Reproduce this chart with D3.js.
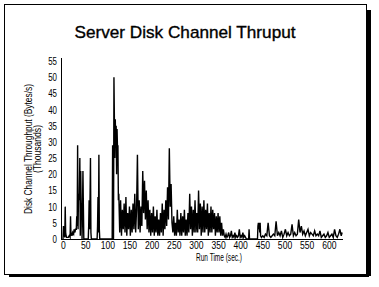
<!DOCTYPE html>
<html>
<head>
<meta charset="utf-8">
<script src="https://cdn.jsdelivr.net/npm/d3@7"></script>
<style>
  body { margin: 0; background: #fff; }
  svg { display: block; }
  .tick text { font-family: "Liberation Sans", Arial, sans-serif; font-size: 11px; fill: #000; }
</style>
</head>
<body>
<div id="chart"></div>
<script>
// run time (sec.) and throughput (thousands of bytes/s)
const runTime = [
  0, 1, 2, 3, 4, 5, 6, 7, 8, 10, 12, 14, 16, 17, 18, 20, 21, 22, 24, 25, 27, 28, 30, 31, 32, 33, 34, 35, 36, 37,
  38, 39, 40, 41, 42, 43, 44, 45, 46, 47, 48, 57, 58, 59, 60, 61, 62, 63, 64, 65, 77, 78, 79, 80, 81, 82, 83, 84, 85,
  111, 112, 113, 114, 115, 116, 117, 118, 119, 120, 121, 122, 123, 124, 125,
  126, 128, 130, 132, 134, 136, 138, 140, 142, 144, 146, 148, 150, 152, 154, 156, 158, 160, 162, 164, 166, 168,
  170, 172, 174, 176, 178, 180, 182, 184, 186, 188, 190, 192, 194, 196, 198, 200, 202, 204, 206, 208, 210, 212,
  214, 216, 218, 220, 222, 224, 226, 228, 230, 232, 234, 236, 238, 240, 242, 244, 246, 248, 250, 252, 254, 256,
  258, 260, 262, 264, 266, 268, 270, 272, 274, 276, 278, 280, 282, 284, 286, 288, 290, 292, 294, 296, 298, 300,
  302, 304, 306, 308, 310, 312, 314, 316, 318, 320, 322, 324, 326, 328, 330, 332, 334, 336, 338, 340, 342, 344,
  346, 348, 350, 352, 354, 356, 358, 360, 362, 364,
  366, 368, 370, 372, 374, 376, 378, 380, 382, 384, 386, 388, 390, 392, 394, 396, 398, 400, 402, 404, 406, 408,
  410, 412, 414, 419, 420, 421, 439, 440, 441, 442, 443, 444, 445, 446,
  448, 451, 454, 457, 460, 463, 466, 469, 472, 475, 478, 481, 484, 487, 490, 493, 496, 499, 502, 505, 508, 511,
  514, 517, 520, 523, 526, 529, 532, 535, 538, 541, 544, 547, 550, 553, 556, 559, 562, 565, 568, 571, 574, 577,
  580, 583, 586, 589, 592, 595, 598, 601, 604, 607, 610, 613, 616, 619, 622, 625, 628, 630
];
const throughput = [
  0, 4, 3, 1, 0.5, 10, 2, 1, 0.5, 0.5, 0.5, 1, 0.5, 7, 1, 2, 1, 2, 1.5, 3, 2, 3, 3, 7, 4, 29, 3, 14, 12, 14,
  25, 1, 21, 10, 11, 0, 9, 21, 10, 0, 0, 0, 4, 12, 3, 12, 25, 2, 0, 0, 0, 4, 13, 2, 26, 3, 0, 0, 0,
  0, 29, 0, 0, 50, 37, 25, 37, 30, 35, 20, 34, 28, 29, 12,
  14, 2, 12, 1, 9, 3, 11, 2, 13, 1, 8, 3, 10, 1, 9, 2, 11, 3, 14, 2, 9, 26,
  3, 12, 2, 10, 4, 21, 8, 18, 6, 15, 3, 12, 2, 9, 1, 8, 2, 10, 1, 7, 2, 9,
  1, 6, 1, 8, 2, 11, 1, 9, 3, 12, 4, 16, 6, 28, 10, 17, 5, 2, 7, 1, 5, 1,
  9, 2, 6, 1, 8, 1, 7, 2, 9, 1, 6, 1, 8, 2, 14, 3, 10, 1, 9, 2, 12, 2,
  8, 2, 15, 3, 11, 1, 10, 2, 12, 2, 9, 3, 11, 1, 8, 2, 10, 2, 9, 3, 8, 1,
  7, 2, 8, 2, 7, 1, 5, 1, 3, 1,
  0.5, 1.5, 0.5, 1, 2, 0.5, 1, 2.5, 0.5, 1, 0.5, 2, 0.5, 1, 0.5, 1, 3, 0.5, 1, 0.5, 2, 0.5,
  1, 0.5, 0, 0, 3, 0, 0, 4, 5, 3, 5, 2, 5, 1,
  0.5, 1, 0.5, 1.5, 1, 5, 1, 0.5, 1, 1.5, 1, 5.5, 1, 2, 1, 2.5, 0.5, 1.5, 3, 1, 2, 1,
  1.5, 4.5, 1, 2, 1, 1.5, 6, 2, 4, 1.5, 2.5, 1, 2, 3, 1, 2, 1.5, 1, 2.5, 1, 1.5, 1,
  2.5, 0.5, 1, 1.5, 0.5, 1, 2, 0.5, 1, 1.5, 0.5, 3, 1, 0.5, 1.5, 3, 1, 2
];
const xTicks = [0, 50, 100, 150, 200, 250, 300, 350, 400, 450, 500, 550, 600];
const yTicks = [0, 5, 10, 15, 20, 25, 30, 35, 40, 45, 50, 55];

const width = 379;
const height = 287;

const svg = d3.select('#chart').append('svg').attr('width', width).attr('height', height);

// frame with drop shadow
svg.append('rect').attr('x', 9).attr('y', 274).attr('width', 360).attr('height', 3).attr('fill', '#000');
svg.append('rect').attr('x', 367).attr('y', 10).attr('width', 4).attr('height', 266).attr('fill', '#000');
svg.append('rect').attr('x', 4.5).attr('y', 4.5).attr('width', 362).attr('height', 270)
  .attr('fill', '#fff').attr('stroke', '#000').attr('stroke-width', 1);

svg.append('text')
  .attr('x', 185).attr('y', 38)
  .attr('text-anchor', 'middle')
  .style('font-family', '"Liberation Sans", Arial, sans-serif')
  .style('font-size', '17px')
  .style('stroke', '#000').style('stroke-width', 0.35)
  .attr('textLength', 221).attr('lengthAdjust', 'spacingAndGlyphs')
  .text('Server Disk Channel Thruput');

const x = d3.scaleLinear().domain([0, 632]).range([63, 343]);
const y = d3.scaleLinear().domain([0, 55]).range([239, 61]);

svg.append('g')
  .attr('transform', 'translate(57,0)')
  .call(d3.axisLeft(y).tickValues(yTicks).tickSize(0).tickPadding(0))
  .call(g => g.select('.domain').remove())
  .call(g => g.selectAll('.tick text').attr('transform', 'scale(0.72,1)'));

svg.append('g')
  .attr('transform', 'translate(0,241)')
  .call(d3.axisBottom(x).tickValues(xTicks).tickSize(0).tickPadding(0))
  .call(g => g.select('.domain').remove())
  .call(g => g.selectAll('.tick text').attr('transform', 'scale(0.78,1)'));

// axis lines
svg.append('line').attr('x1', 61.5).attr('x2', 61.5).attr('y1', 58).attr('y2', 240)
  .attr('stroke', '#000');
svg.append('line').attr('x1', 61).attr('x2', 343).attr('y1', 239.5).attr('y2', 239.5)
  .attr('stroke', '#000');

const pts = runTime.map((t, i) => [t, throughput[i]]);
const line = d3.line().x(d => x(d[0])).y(d => y(d[1]));
svg.append('path')
  .datum(pts)
  .attr('d', line)
  .attr('fill', 'none')
  .attr('stroke', '#000')
  .attr('stroke-width', 1.4);

const lab = svg.append('g')
  .style('font-family', '"Liberation Sans", Arial, sans-serif')
  .style('font-size', '11px');
lab.append('text')
  .attr('transform', 'translate(32,149) rotate(-90)')
  .attr('text-anchor', 'middle')
  .attr('textLength', 130).attr('lengthAdjust', 'spacingAndGlyphs')
  .text('Disk Channel Throughput (Bytes/s)');
lab.append('text')
  .attr('transform', 'translate(41,149) rotate(-90)')
  .attr('text-anchor', 'middle')
  .attr('textLength', 48).attr('lengthAdjust', 'spacingAndGlyphs')
  .text('(Thousands)');
lab.append('text')
  .attr('x', 219).attr('y', 261)
  .attr('text-anchor', 'middle')
  .attr('textLength', 46).attr('lengthAdjust', 'spacingAndGlyphs')
  .text('Run Time (sec.)');
</script>
</body>
</html>
